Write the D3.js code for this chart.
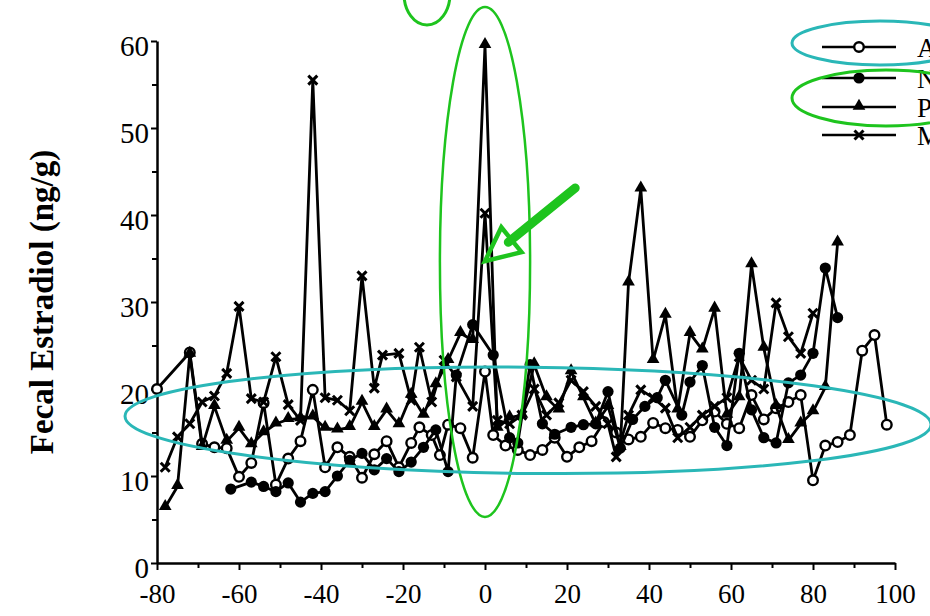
<!DOCTYPE html>
<html><head><meta charset="utf-8">
<script src="https://cdn.jsdelivr.net/npm/d3@7"></script>
<style>
html,body{margin:0;padding:0;background:#fff;overflow:hidden;}
svg{display:block;}
svg text{font-family:"Liberation Serif","DejaVu Serif",serif;}
</style></head>
<body>
<svg id="chart" width="930" height="616"></svg>
<script>
// ---- data ----
const seriesNames = ["A", "N", "P", "M"];
const markerTypes = ["openCircle", "filledCircle", "triangle", "cross"];

const daysA = [-80,-72,-69,-66,-63,-60,-57,-54,-51,-48,-45,-42,-39,-36,-33,-30,-27,-24,-21,-18,-16,-13,-11,-9,-6,-3,0,2,5,8,11,14,17,20,23,26,29,32,35,38,41,44,47,50,53,56,59,62,65,68,71,74,77,80,83,86,89,92,95,98];
const valsA = [20,24.2,13.7,13.3,13.2,9.9,11.5,18.4,9,12,14,19.9,11,13.3,12.2,9.8,12.5,14,11,13.8,15.6,14.7,12.4,15.9,15.5,12.1,22,14.7,13.5,13,12.4,13,14.4,12.2,13.3,14,16.2,15,14.2,14.5,16.1,15.5,15.3,14.5,16.4,17.4,16,15.5,19.3,16.5,17.8,18.5,19.3,9.5,13.5,13.9,14.7,24.4,26.2,15.9];

const daysN = [-62,-57,-54,-51,-48,-45,-42,-39,-36,-33,-30,-27,-24,-21,-18,-15,-12,-9,-7,-3,2,6,8,11,14,17,21,24,27,30,33,36,39,42,44,48,50,53,56,59,62,65,68,71,74,77,80,83,86];
const valsN = [8.5,9.3,8.8,8.2,9.2,7,8,8.2,10,11.8,12.6,10.7,12,10.5,11.6,13.3,15.3,10.5,21.6,27.4,23.9,14.4,13.8,22.8,16,14.8,15.6,15.9,16,19.7,13.2,16.5,18,19,21,17,20.8,22.7,15.6,13.5,24.1,17.6,14.4,13.8,20.7,21.6,24.1,33.9,28.2];

const daysP = [-78,-75,-72,-69,-66,-63,-60,-57,-54,-51,-48,-45,-42,-39,-36,-33,-30,-27,-24,-21,-18,-15,-12,-9,-6,-3,0,3,6,9,12,15,18,21,24,27,30,33,35,38,41,44,47,50,53,56,59,62,65,68,71,74,77,80,83,86];
const valsP = [6.4,8.8,24,13.3,18,14,15.5,13.6,15,16,16.5,16.6,16.8,15.5,15.3,15.6,18.5,15.6,17.6,15.9,19.3,17,20.5,23.3,26.4,25.6,59.5,15.5,16.7,17,22.8,19,17.6,22,19,16,18,13.3,32.2,43,23.3,28.5,17.6,26.4,24.5,29.2,17,19,34.3,24.7,18,14.1,16,17.4,20.2,36.8];

const daysM = [-78,-75,-72,-69,-66,-63,-60,-57,-54,-51,-48,-45,-42,-39,-36,-33,-30,-27,-25,-21,-18,-16,-13,-10,-7,-3,0,3,6,9,12,15,18,21,24,27,30,32,35,38,41,44,47,50,53,56,59,62,65,68,71,74,77,80];
const valsM = [11,14.5,16,18.5,19.2,21.8,29.5,18.9,18.5,23.7,18.2,16.4,55.5,19,18.7,17.5,33,20.1,23.9,24.1,18.7,24.8,18.5,23.3,21.4,18,40.2,16.4,16,17,20,17,18.4,21,19.7,18,16,12.2,17,19.9,19,17.8,14.4,15.6,17,18,19,23.7,21,20,29.9,26,24.1,28.7];

const xTicks = [-80,-60,-40,-20,0,20,40,60,80,100];
const yTicks = [0,10,20,30,40,50,60];
const yAxisTitle = "Fecal Estradiol (ng/g)";

// annotations (in data units)
const greenEllipse = {cx: 0, cy: 34.6, rx: 11, ry: 29.3};
const cyanEllipse = {cx: 10.5, cy: 16.4, rx: 98.3, ry: 6.1};
const arrowFrom = {x: 22, y: 43.1};
const arrowTo = {x: 0, y: 34.7};

// ---- drawing ----
const svg = d3.select("#chart");
const x = d3.scaleLinear().domain([-80, 100]).range([157, 895]);
const y = d3.scaleLinear().domain([0, 60]).range([563, 41]);
const GREEN = "#1ec41e", CYAN = "#2ab7b7";
const fmt = d => String(d);

// axes
const gy = svg.append("g").attr("transform", `translate(${x(-80)},0)`)
  .call(d3.axisLeft(y).tickValues(yTicks).tickSize(6).tickSizeOuter(0).tickFormat(fmt));
svg.append("g").attr("transform", `translate(${x(-80)},0)`)
  .call(d3.axisLeft(y).tickValues(d3.range(5, 60, 10)).tickSize(5).tickSizeOuter(0).tickFormat(""))
  .select(".domain").remove();
const gx = svg.append("g").attr("transform", `translate(0,${y(0)})`)
  .call(d3.axisBottom(x).tickValues(xTicks).tickSize(7).tickSizeOuter(0).tickFormat(fmt));
svg.append("g").attr("transform", `translate(0,${y(0)})`)
  .call(d3.axisBottom(x).tickValues(d3.range(-70, 100, 20)).tickSize(5).tickSizeOuter(0).tickFormat(""))
  .select(".domain").remove();

svg.selectAll("g").attr("font-family", null);
svg.selectAll(".domain").attr("stroke", "#000").attr("stroke-width", 2.5);
svg.selectAll(".tick line").attr("stroke", "#000").attr("stroke-width", 2);
gy.selectAll(".tick text").style("font-size", "29px").attr("fill", "#000").attr("x", -8).attr("dy", "0.5em");
gx.selectAll(".tick text").style("font-size", "27px").attr("fill", "#000").attr("y", 21).attr("dy", "0.71em");

svg.append("text").attr("transform", `translate(53,${(41 + 563) / 2}) rotate(-90)`)
  .attr("text-anchor", "middle").style("font-weight", "bold")
  .style("font-size", "33px").attr("fill", "#000").text(yAxisTitle);

// series
const seriesData = [
  daysA.map((d, i) => ({x: d, y: valsA[i]})),
  daysN.map((d, i) => ({x: d, y: valsN[i]})),
  daysP.map((d, i) => ({x: d, y: valsP[i]})),
  daysM.map((d, i) => ({x: d, y: valsM[i]}))
];
const line = d3.line().x(d => x(d.x)).y(d => y(d.y));

function drawMarker(g, type, px, py) {
  if (type === "openCircle") {
    g.append("circle").attr("cx", px).attr("cy", py).attr("r", 4.8).attr("fill", "#fff").attr("stroke", "#000").attr("stroke-width", 2.4);
  } else if (type === "filledCircle") {
    g.append("circle").attr("cx", px).attr("cy", py).attr("r", 5.6).attr("fill", "#000");
  } else if (type === "triangle") {
    g.append("path").attr("d", d3.symbol(d3.symbolTriangle, 70)()).attr("transform", `translate(${px},${py - 1})`).attr("fill", "#000");
  } else {
    g.append("path").attr("d", `M${px-4.5},${py-4.5}L${px+4.5},${py+4.5}M${px+4.5},${py-4.5}L${px-4.5},${py+4.5}`).attr("stroke", "#000").attr("stroke-width", 3);
  }
}

seriesData.forEach((data, si) => {
  const g = svg.append("g");
  g.append("path").datum(data).attr("d", line).attr("fill", "none").attr("stroke", "#000").attr("stroke-width", 2.8).attr("stroke-linejoin", "round");
  data.forEach(d => drawMarker(g, markerTypes[si], x(d.x), y(d.y)));
});

// legend
const legRows = [47, 78, 107, 135];
seriesNames.forEach((name, i) => {
  const g = svg.append("g");
  g.append("line").attr("x1", 822).attr("x2", 896).attr("y1", legRows[i]).attr("y2", legRows[i]).attr("stroke", "#000").attr("stroke-width", 2.6);
  drawMarker(g, markerTypes[i], 859, legRows[i]);
  g.append("text").attr("x", 917).attr("y", legRows[i]).attr("dy", "0.36em").style("font-size", "27px").attr("fill", "#000").text(name);
});

// annotations
svg.append("ellipse").attr("cx", 880).attr("cy", 43).attr("rx", 88).attr("ry", 22).attr("fill", "none").attr("stroke", CYAN).attr("stroke-width", 3);
svg.append("ellipse").attr("cx", 886).attr("cy", 98).attr("rx", 94).attr("ry", 28).attr("fill", "none").attr("stroke", GREEN).attr("stroke-width", 3);
svg.append("ellipse").attr("cx", 427).attr("cy", -6).attr("rx", 23).attr("ry", 31).attr("fill", "none").attr("stroke", GREEN).attr("stroke-width", 3);

svg.append("ellipse").attr("cx", x(greenEllipse.cx)).attr("cy", y(greenEllipse.cy))
  .attr("rx", x(greenEllipse.rx) - x(0)).attr("ry", y(0) - y(greenEllipse.ry))
  .attr("fill", "none").attr("stroke", GREEN).attr("stroke-width", 2.5);
svg.append("ellipse").attr("cx", x(cyanEllipse.cx)).attr("cy", y(cyanEllipse.cy))
  .attr("rx", x(cyanEllipse.rx) - x(0)).attr("ry", y(0) - y(cyanEllipse.ry))
  .attr("transform", `rotate(0.6,${x(cyanEllipse.cx)},${y(cyanEllipse.cy)})`)
  .attr("fill", "none").attr("stroke", CYAN).attr("stroke-width", 3);

// arrow
(function() {
  const x1 = x(arrowFrom.x), y1 = y(arrowFrom.y), x2 = x(arrowTo.x), y2 = y(arrowTo.y);
  const ang = Math.atan2(y2 - y1, x2 - x1);
  const headLen = 34, headW = 16;
  const bx = x2 - headLen * Math.cos(ang), by = y2 - headLen * Math.sin(ang);
  const nx = -Math.sin(ang), ny = Math.cos(ang);
  svg.append("line").attr("x1", x1).attr("y1", y1).attr("x2", bx + 4 * Math.cos(ang)).attr("y2", by + 4 * Math.sin(ang))
    .attr("stroke", GREEN).attr("stroke-width", 9).attr("stroke-linecap", "round");
  svg.append("path").attr("d", `M${x2},${y2}L${bx + nx * headW},${by + ny * headW}L${bx - nx * headW},${by - ny * headW}Z`)
    .attr("fill", "none").attr("stroke", GREEN).attr("stroke-width", 4.5).attr("stroke-linejoin", "miter");
})();
</script>
</body></html>
